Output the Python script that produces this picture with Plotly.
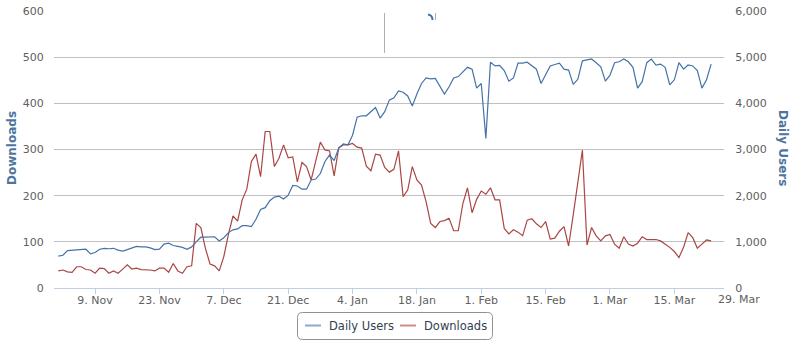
import pandas as pd
import plotly.graph_objects as go

# ---------------- data ----------------
start_date = "2014-11-01"
daily_users = [
    690, 710, 810, 820, 820, 830, 840, 740, 770, 840,
    860, 850, 860, 820, 800, 830, 870, 900, 890, 890,
    870, 830, 840, 950, 970, 920, 900, 880, 840, 890,
    1000, 1100, 1100, 1100, 1110, 1020, 1090, 1200, 1260, 1280,
    1350, 1350, 1330, 1490, 1700, 1740, 1890, 1970, 1990, 1930,
    2010, 2220, 2210, 2140, 2140, 2340, 2360, 2480, 2740, 2880,
    2760, 3030, 3120, 3100, 3310, 3700, 3730, 3730, 3830, 3910,
    3680, 3820, 4070, 4120, 4270, 4240, 4160, 3940, 4200, 4430,
    4550, 4530, 4540, 4360, 4200, 4360, 4550, 4580, 4690, 4780,
    4740, 4330, 4430, 3240, 4890, 4810, 4820, 4710, 4480, 4550,
    4870, 4870, 4890, 4810, 4740, 4430, 4610, 4810, 4840, 4870,
    4740, 4720, 4410, 4520, 4920, 4940, 4960, 4880, 4790, 4480,
    4610, 4880, 4900, 4960, 4900, 4780, 4330, 4470, 4880, 4960,
    4830, 4850, 4780, 4400, 4510, 4880, 4740, 4830, 4810, 4710,
    4330, 4510, 4850,
]
downloads = [
    37, 39, 35, 34, 46, 46, 40, 39, 32, 43,
    42, 32, 37, 32, 41, 50, 41, 43, 40, 40,
    39, 37, 43, 43, 34, 53, 37, 32, 46, 48,
    140, 131, 86, 52, 48, 37, 68, 116, 156, 145,
    191, 214, 274, 290, 241, 339, 339, 263, 281, 310,
    282, 284, 230, 272, 263, 234, 277, 316, 299, 297,
    243, 304, 310, 310, 313, 305, 303, 264, 254, 290,
    288, 261, 251, 257, 297, 198, 212, 263, 234, 223,
    187, 140, 131, 144, 146, 151, 124, 124, 183, 217,
    163, 192, 210, 203, 217, 191, 191, 129, 117, 126,
    121, 113, 147, 150, 139, 131, 144, 106, 108, 123,
    133, 91, 158, 227, 299, 93, 131, 113, 102, 113,
    116, 95, 86, 111, 95, 91, 97, 111, 105, 105,
    105, 102, 95, 88, 79, 66, 88, 120, 109, 86,
    95, 104, 102,
]
series_names = ["Daily Users", "Downloads"]
x_tick_dates = ["2014-11-09", "2014-11-23", "2014-12-07", "2014-12-21", "2015-01-04",
                "2015-01-18", "2015-02-01", "2015-02-15", "2015-03-01", "2015-03-15"]
x_tick_text = ["9. Nov", "23. Nov", "7. Dec", "21. Dec", "4. Jan",
               "18. Jan", "1. Feb", "15. Feb", "1. Mar", "15. Mar"]
extra_tick_date = "2015-03-29"
extra_tick_text = "29. Mar"
left_ticks = [0, 100, 200, 300, 400, 500, 600]
right_ticks = [0, 1000, 2000, 3000, 4000, 5000, 6000]

dates = pd.date_range(start_date, periods=len(daily_users), freq="D")

# ---------------- styling ----------------
W, H = 794, 344
ML, MR, MT, MB = 54, 70, 11, 56
PW, PH = W - ML - MR, H - MT - MB
FONT = "DejaVu Sans"
BLUE, RED = "#4572A7", "#AA4643"
x_range = [pd.Timestamp(start_date) - pd.Timedelta(hours=22.5),
           pd.Timestamp(start_date) + pd.Timedelta(days=144.8)]


def px_x(p):
    return (p - ML) / PW


def px_y(p):
    return (H - MB - p) / PH


fig = go.Figure()
fig.add_trace(go.Scatter(x=dates, y=daily_users, name=series_names[0], mode="lines",
                         line=dict(color=BLUE, width=1.2), yaxis="y2"))
fig.add_trace(go.Scatter(x=dates, y=downloads, name=series_names[1], mode="lines",
                         line=dict(color=RED, width=1.2), yaxis="y"))

fig.update_layout(
    template="none",
    width=W, height=H,
    margin=dict(l=ML, r=MR, t=MT, b=MB, pad=0),
    paper_bgcolor="white", plot_bgcolor="white",
    font=dict(family=FONT, size=11, color="#606060"),
    showlegend=False,
    xaxis=dict(
        type="date", range=x_range, automargin=False,
        tickvals=x_tick_dates, ticktext=x_tick_text,
        showgrid=False, zeroline=False,
        showline=True, linecolor="#C0D0E0", linewidth=1,
        ticks="outside", ticklen=5, tickcolor="#C0D0E0", tickwidth=1,
        ticklabelstandoff=-3,
        tickfont=dict(family=FONT, size=11, color="#606060"),
    ),
    yaxis=dict(
        range=[0, 600], tickvals=left_ticks, automargin=False,
        showgrid=True, gridcolor="#C0C0C0", gridwidth=1,
        zeroline=False, showline=False,
        ticks="outside", ticklen=7, tickcolor="rgba(0,0,0,0)",
        tickfont=dict(family=FONT, size=11, color="#606060"),
    ),
    yaxis2=dict(
        range=[0, 6000], tickvals=right_ticks, tickformat=",", automargin=False,
        overlaying="y", side="right",
        showgrid=False, zeroline=False, showline=False,
        ticks="outside", ticklen=8, tickcolor="rgba(0,0,0,0)",
        tickfont=dict(family=FONT, size=11, color="#606060"),
    ),
)

# axis titles
fig.add_annotation(text="<b>Downloads</b>", xref="paper", yref="paper",
                   x=px_x(12), y=px_y(148), textangle=-90, showarrow=False,
                   xanchor="center", yanchor="middle",
                   font=dict(family=FONT, size=12, color="#4d759e"))
fig.add_annotation(text="<b>Daily Users</b>", xref="paper", yref="paper",
                   x=px_x(783), y=px_y(148), textangle=90, showarrow=False,
                   xanchor="center", yanchor="middle",
                   font=dict(family=FONT, size=12, color="#4d759e"))

# last x label beyond plot area
x0, x1 = x_range
frac = (pd.Timestamp(extra_tick_date) - x0) / (x1 - x0)
fig.add_annotation(text=extra_tick_text, xref="paper", yref="paper",
                   x=frac, y=px_y(299.5), showarrow=False,
                   xanchor="center", yanchor="middle",
                   font=dict(family=FONT, size=11, color="#606060"))

# custom legend
bx0, bx1, by0, by1, r = 297.5, 492.5, 312.5, 339.5, 5
path = (f"M {px_x(bx0 + r)},{px_y(by0)} L {px_x(bx1 - r)},{px_y(by0)} "
        f"Q {px_x(bx1)},{px_y(by0)} {px_x(bx1)},{px_y(by0 + r)} "
        f"L {px_x(bx1)},{px_y(by1 - r)} Q {px_x(bx1)},{px_y(by1)} {px_x(bx1 - r)},{px_y(by1)} "
        f"L {px_x(bx0 + r)},{px_y(by1)} Q {px_x(bx0)},{px_y(by1)} {px_x(bx0)},{px_y(by1 - r)} "
        f"L {px_x(bx0)},{px_y(by0 + r)} Q {px_x(bx0)},{px_y(by0)} {px_x(bx0 + r)},{px_y(by0)} Z")
fig.add_shape(type="path", path=path, xref="paper", yref="paper",
              line=dict(color="#909090", width=1), fillcolor="white")
legend_items = [(series_names[0], "#8fa9cc", 305, 327), (series_names[1], "#cc8e8c", 400, 422)]
ly = 325.5
for name, col, sx, tx in legend_items:
    fig.add_shape(type="line", xref="paper", yref="paper",
                  x0=px_x(sx), x1=px_x(sx + 16), y0=px_y(ly), y1=px_y(ly),
                  line=dict(color=col, width=2))
    fig.add_annotation(text=name, xref="paper", yref="paper", x=px_x(tx), y=px_y(ly),
                       xanchor="left", yanchor="middle", showarrow=False,
                       font=dict(family=FONT, size=11.5, color="#333f50"))

# small artifacts at top of plot
fig.add_shape(type="line", xref="paper", yref="paper", x0=px_x(384.5), x1=px_x(384.5),
              y0=px_y(13), y1=px_y(53), line=dict(color="#b0b0b0", width=1))
fig.add_shape(type="line", xref="paper", yref="paper", x0=px_x(435.5), x1=px_x(435.5),
              y0=px_y(13), y1=px_y(20), line=dict(color="#b0b0b0", width=1))
fig.add_shape(type="path", xref="paper", yref="paper",
              path=f"M {px_x(428)},{px_y(14.5)} Q {px_x(432.5)},{px_y(15)} {px_x(432.5)},{px_y(20)}",
              line=dict(color=BLUE, width=2))

fig.write_html("out.html")
